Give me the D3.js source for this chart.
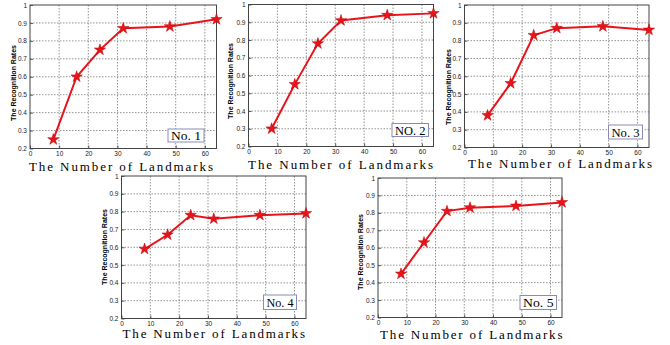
<!DOCTYPE html>
<html><head><meta charset="utf-8">
<script src="https://cdn.jsdelivr.net/npm/d3@7"></script>
<style>body{margin:0;background:#fff}svg{display:block}</style>
</head><body>
<svg id="c" width="670" height="345"></svg>
<script>
const landmarks = [8, 16, 24, 32, 48, 64];
const rates1 = [0.25, 0.60, 0.75, 0.87, 0.88, 0.92];
const rates2 = [0.30, 0.55, 0.78, 0.91, 0.94, 0.95];
const rates3 = [0.38, 0.56, 0.83, 0.87, 0.88, 0.86];
const rates4 = [0.59, 0.67, 0.78, 0.76, 0.78, 0.79];
const rates5 = [0.45, 0.63, 0.81, 0.83, 0.84, 0.86];
const panelLabels = ["No. 1", "NO. 2", "No. 3", "No. 4", "No. 5"];
const xTicks = [0, 10, 20, 30, 40, 50, 60];
const yTicks = [0.2, 0.3, 0.4, 0.5, 0.6, 0.7, 0.8, 0.9, 1];
const xTitle = "The Number of Landmarks";
const yTitle = "The Recognition Rates";
const series = [rates1, rates2, rates3, rates4, rates5];

// layout: plot box [left, top, right, bottom], label box [x0,y0,x1,y1], y-title x/center, x-title [x0,x1,yCenter]
const layout = [
  {p:[30,5,216.5,148.5], b:[168,129,204,142], yt:[13.5,83], xt:[29,213,166]},
  {p:[248.5,4.5,433.5,146.5], b:[392,123.5,428.5,136.5], yt:[231,81], xt:[248,433,164.5]},
  {p:[464.5,5,649,147.5], b:[608.5,125,642.5,139], yt:[449,87], xt:[468,652,163.5]},
  {p:[121.5,176,306,318.5], b:[263.5,295,296.5,309.5], yt:[105,247], xt:[122.5,305,333.5]},
  {p:[378,178,562,317.5], b:[520,295.5,556.5,309.5], yt:[361,252], xt:[380,562.5,334.5]}
];

const svg = d3.select("#c");

series.forEach((vals, i) => {
  const L = layout[i];
  const [x0, y0, x1, y1] = L.p;
  const x = d3.scaleLinear().domain([0, 64]).range([x0, x1]);
  const y = d3.scaleLinear().domain([0.2, 1]).range([y1, y0]);
  const g = svg.append("g");

  // grid
  g.append("g").selectAll("line").data(xTicks.filter(t => t > 0)).join("line")
    .attr("x1", d => x(d)).attr("x2", d => x(d)).attr("y1", y0).attr("y2", y1)
    .attr("stroke", "#777").attr("stroke-width", 0.8).attr("stroke-dasharray", "1.5,1.5");
  g.append("g").selectAll("line").data(yTicks.filter(t => t > 0.2 && t < 1)).join("line")
    .attr("x1", x0).attr("x2", x1).attr("y1", d => y(d)).attr("y2", d => y(d))
    .attr("stroke", "#777").attr("stroke-width", 0.8).attr("stroke-dasharray", "1.5,1.5");

  // axes
  const xa = g.append("g").attr("transform", `translate(0,${y1})`)
    .call(d3.axisBottom(x).tickValues(xTicks).tickSize(-3).tickPadding(3).tickFormat(d3.format("d")));
  const ya = g.append("g").attr("transform", `translate(${x0},0)`)
    .call(d3.axisLeft(y).tickValues(yTicks).tickSize(-3).tickPadding(3).tickFormat(d => d === 1 ? "1" : d3.format(".1f")(d)));
  [xa, ya].forEach(a => {
    a.select(".domain").remove();
    a.selectAll("line").attr("stroke", "#333").attr("stroke-width", 0.8);
    a.selectAll("text").attr("font-family", "Liberation Sans, Arial, sans-serif").attr("font-size", 6.5).attr("fill", "#222");
  });
  // box
  g.append("rect").attr("x", x0).attr("y", y0).attr("width", x1 - x0).attr("height", y1 - y0)
    .attr("fill", "none").attr("stroke", "#444").attr("stroke-width", 1);

  // line
  const pts = landmarks.map((d, k) => [d, vals[k]]);
  g.append("path").datum(pts)
    .attr("d", d3.line().x(d => x(d[0])).y(d => y(d[1])))
    .attr("fill", "none").attr("stroke", "#e8141c").attr("stroke-width", 2);
  g.append("g").selectAll("path").data(pts).join("path")
    .attr("transform", d => `translate(${x(d[0])},${y(d[1])})`)
    .attr("d", d3.symbol().type(d3.symbolStar).size(40))
    .attr("fill", "#e8141c").attr("stroke", "#c00000").attr("stroke-width", 0.5);

  // label box
  const [bx0, by0, bx1, by1] = L.b;
  g.append("rect").attr("x", bx0).attr("y", by0).attr("width", bx1 - bx0).attr("height", by1 - by0)
    .attr("fill", "#fff").attr("stroke", "#8a8ab8").attr("stroke-width", 1);
  g.append("text").attr("x", (bx0 + bx1) / 2).attr("y", (by0 + by1) / 2 + 4.5)
    .attr("text-anchor", "middle").attr("font-family", "Liberation Serif, serif").attr("font-size", 13)
    .attr("textLength", bx1 - bx0 - 6).attr("lengthAdjust", "spacingAndGlyphs")
    .text(panelLabels[i]);

  // y title
  g.append("text").attr("transform", `translate(${L.yt[0]},${L.yt[1]}) rotate(-90)`)
    .attr("text-anchor", "middle").attr("dy", "0.35em")
    .attr("font-family", "Liberation Sans, Arial, sans-serif").attr("font-weight", "bold").attr("font-size", 7)
    .text(yTitle);

  // x title
  g.append("text").attr("x", L.xt[0]).attr("y", L.xt[2] + 4.5)
    .attr("font-family", "Liberation Serif, serif").attr("font-size", 13)
    .attr("textLength", L.xt[1] - L.xt[0]).attr("lengthAdjust", "spacing")
    .text(xTitle);
});
</script>
</body></html>
